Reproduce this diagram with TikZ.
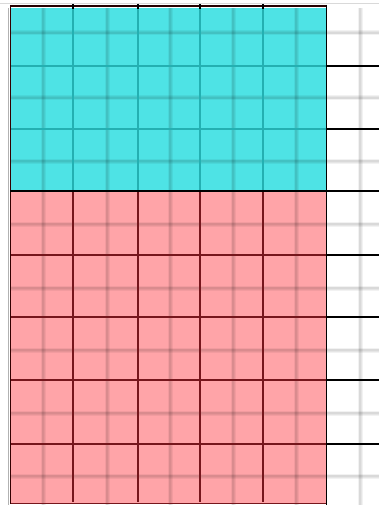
\documentclass[tikz,border=0pt]{standalone}
\usetikzlibrary{calc}
\definecolor{cyanfill}{RGB}{78,227,229}
\definecolor{pinkfill}{RGB}{255,164,168}
\definecolor{tealline}{RGB}{36,176,178}
\definecolor{redline}{RGB}{118,22,28}
\tikzset{
  minorblur/.style={draw=black,opacity=0.05,line width=5pt},
  minormid/.style={draw=black,opacity=0.05,line width=3pt},
  minorcore/.style={draw=black,opacity=0.05,line width=1.5pt},
  tealmajor/.style={draw=tealline,line width=1.2pt},
  redmajor/.style={draw=redline,line width=1.2pt},
  blackmajor/.style={draw=black,line width=1.3pt},
}
\begin{document}
\begin{tikzpicture}[x=1pt,y=-1pt]
\useasboundingbox (0,0) rectangle (379,505);
\fill[white] (0,0) rectangle (379,505);
% colour regions
\fill[cyanfill] (10,8) rectangle (326,191);
\fill[pinkfill] (10,191) rectangle (326,504);
% fine blurred grid (graph paper)
\foreach \x in {43,107,170,233,296,360}{
  \draw[minorblur] (\x,8) -- (\x,505);
  \draw[minormid] (\x,8) -- (\x,505);
  \draw[minorcore] (\x,8) -- (\x,505);
}
\foreach \y in {33,98,161,224,288,350,413,476}{
  \draw[minorblur] (10,\y) -- (379,\y);
  \draw[minormid] (10,\y) -- (379,\y);
  \draw[minorcore] (10,\y) -- (379,\y);
}
% major lines in cyan region
\foreach \x in {73,138,200,263}{
  \draw[tealmajor] (\x,8) -- (\x,191);
}
\foreach \y in {66,129}{
  \draw[tealmajor] (10,\y) -- (326,\y);
}
% major lines in pink region
\foreach \x in {73,138,200,263}{
  \draw[redmajor] (\x,191) -- (\x,502);
}
\foreach \y in {255,317,380,444}{
  \draw[redmajor] (10,\y) -- (326,\y);
}
\draw[redmajor] (10,503.5) -- (326,503.5);
% major lines in white column
\foreach \y in {66,129,191,255,317,380,444}{
  \draw[blackmajor] (326,\y) -- (379,\y);
}
% borders
\draw[black!15,line width=1pt] (0,3.5) -- (379,3.5);
\draw[black!85!red,line width=2pt] (10,6.5) -- (326,6.5);
\draw[black!30,line width=1pt] (8,8) -- (8,505);
\draw[black!80!red,line width=1.6pt] (10.5,6) -- (10.5,504);
\draw[blackmajor] (10,191) -- (326,191);
\draw[blackmajor] (326.5,5) -- (326.5,505);
\foreach \x in {73,138,200,263}{
  \draw[black,line width=1.2pt] (\x,4) -- (\x,9);
}
\end{tikzpicture}
\end{document}
